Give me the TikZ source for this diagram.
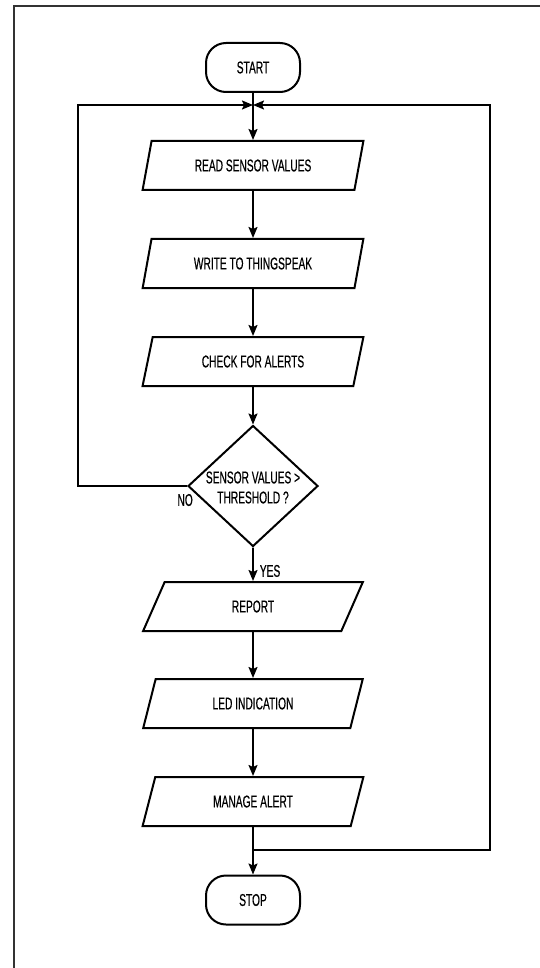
\documentclass[tikz,border=0pt]{standalone}
\usepackage{fontspec}
\setmainfont{Liberation Sans}[FakeStretch=0.6, FakeBold=0.4]
\usetikzlibrary{shapes.geometric,arrows.meta}
\begin{document}
\begin{tikzpicture}[x=1pt,y=-1pt,
  every node/.style={font=\fontsize{17}{20}\selectfont},
  base/.style={draw=black, line width=2pt, fill=white},
  term/.style={base, rectangle, rounded corners=20pt, minimum width=94pt, minimum height=49pt, inner sep=0pt},
  io/.style={base, trapezium, trapezium left angle=66.8, trapezium right angle=113.2, trapezium stretches=true, minimum width=221pt, minimum height=49pt, inner sep=0pt},
  dec/.style={base, diamond, minimum width=130pt, minimum height=121pt, inner sep=0pt},
  arr/.style={line width=1.7pt, -{Stealth[length=11pt,width=9pt,inset=2pt]}},
  ln/.style={line width=1.7pt},
  lbl/.style={inner sep=0pt},
]
\useasboundingbox (0,0) rectangle (540,968);
\fill[white] (0,0) rectangle (540,968);
\coordinate (fb) at (14,968);
\coordinate (fc) at (14,6);
\coordinate (fr) at (540,6);
\draw[line width=2.5pt, color=black!80] (fb) -- (fc) -- (fr);

\node[term] (start) at (253,67.5) {START};
\node[io] (read) at (253,165.5) {READ SENSOR VALUES};
\node[io] (write) at (253,263.5) {WRITE TO THINGSPEAK};
\node[io] (check) at (253,361.5) {CHECK FOR ALERTS};
\node[dec] (dec) at (253,486) {};
\node[lbl, align=center] (dectext) at (253,487.5) {SENSOR VALUES >\\THRESHOLD ?};
\node[io] (report) at (253,606.5) {REPORT};
\node[io] (led) at (253,703.5) {LED INDICATION};
\node[io] (manage) at (253,801.5) {MANAGE ALERT};
\node[term] (stop) at (253,900) {STOP};

\coordinate (m1) at (253,105);
\coordinate (nl) at (78,486);
\coordinate (m2) at (253,850);
\coordinate (rc) at (490,850);

\draw[ln] (start.south) -- (m1);
\draw[arr] (m1) -- (read.north);
\draw[arr] (read.south) -- (write.north);
\draw[arr] (write.south) -- (check.north);
\draw[arr] (check.south) -- (dec.north);
\draw[arr] (dec.south) -- (report.north) node[lbl, pos=0.7, right=6pt] (yes) {YES};
\draw[arr] (dec.west) -- (nl) |- (m1);
\node[lbl, anchor=east] (no) at (193,500) {NO};
\draw[arr] (report.south) -- (led.north);
\draw[arr] (led.south) -- (manage.north);
\draw[arr] (manage.south) -- (stop.north);
\draw[arr] (m2) -- (rc) |- (m1);
\end{tikzpicture}
\end{document}
